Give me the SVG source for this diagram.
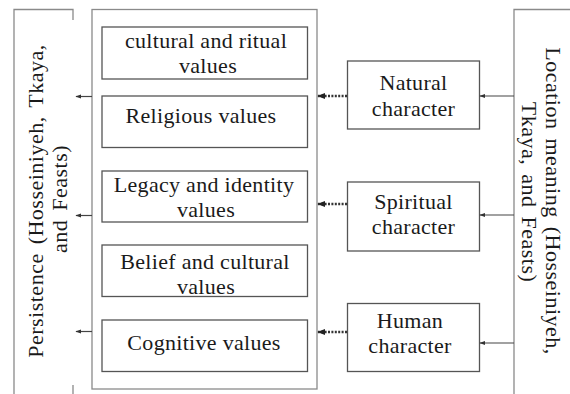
<svg xmlns="http://www.w3.org/2000/svg" width="570" height="394" viewBox="0 0 570 394">
<defs>
<style>
text{font-family:"Liberation Serif","Times New Roman",serif;font-size:22px;fill:#1a1a1a;text-anchor:middle;letter-spacing:0.3px}
text.rot{word-spacing:3px;letter-spacing:0.5px}
.frame{fill:none;stroke:#8a8a8a;stroke-width:1.3}
.box{fill:#fff;stroke:#555;stroke-width:1.3}
.link{stroke:#444;stroke-width:1.2;fill:none}
.dot{stroke:#333;stroke-width:2.4;stroke-dasharray:2 1.4;fill:none}
</style>
<marker id="ah" viewBox="0 0 10 10" refX="9" refY="5" markerWidth="6" markerHeight="6" orient="auto-start-reverse" markerUnits="userSpaceOnUse">
<path d="M0,1.5 L10,5 L0,8.5 Z" fill="#333"/>
</marker>
<marker id="ahb" viewBox="0 0 10 10" refX="9" refY="5" markerWidth="8" markerHeight="8" orient="auto-start-reverse" markerUnits="userSpaceOnUse">
<path d="M0,1 L10,5 L0,9 Z" fill="#222"/>
</marker>
</defs>
<rect width="570" height="394" fill="#fff"/>

<g id="persistence">
<path class="frame" d="M73,20 V9.5 H14 V394 M73,385 V394"/>
<text class="rot" transform="translate(43,201) rotate(-90)">Persistence (Hosseiniyeh, Tkaya,</text>
<text class="rot" transform="translate(67,199) rotate(-90)">and Feasts)</text>
</g>

<g id="values-frame">
<rect class="frame" x="92" y="9.5" width="225" height="379.5"/>
</g>

<g id="cultural-ritual">
<rect class="box" x="102" y="27" width="205.5" height="52"/>
<text x="206" y="48">cultural and ritual</text>
<text x="208" y="73">values</text>
</g>
<g id="religious">
<rect class="box" x="102" y="96" width="205.5" height="51.5"/>
<text x="201" y="123">Religious values</text>
</g>
<g id="legacy">
<rect class="box" x="102" y="171" width="205.5" height="51"/>
<text x="204" y="192">Legacy and identity</text>
<text x="206" y="217">values</text>
</g>
<g id="belief">
<rect class="box" x="102" y="245" width="205.5" height="51.5"/>
<text x="205" y="269">Belief and cultural</text>
<text x="206" y="294">values</text>
</g>
<g id="cognitive">
<rect class="box" x="102" y="320" width="205.5" height="51.5"/>
<text x="204" y="350">Cognitive values</text>
</g>

<g id="natural">
<rect class="box" x="347.5" y="61" width="132" height="68"/>
<text x="413.5" y="90">Natural</text>
<text x="413.5" y="116">character</text>
</g>
<g id="spiritual">
<rect class="box" x="347.5" y="182" width="132" height="69"/>
<text x="413.5" y="209">Spiritual</text>
<text x="413.5" y="234">character</text>
</g>
<g id="human">
<rect class="box" x="347.5" y="303.5" width="132" height="68"/>
<text x="410" y="328">Human</text>
<text x="410" y="353">character</text>
</g>

<g id="location">
<path class="frame" d="M514,394 V9.5 H570"/>
<text class="rot" transform="translate(546,201) rotate(90)">Location meaning (Hosseiniyeh,</text>
<text class="rot" transform="translate(522,192) rotate(90)">Tkaya, and Feasts)</text>
</g>

<g id="connectors">
<line class="link" x1="92" y1="96.5" x2="76" y2="96.5" marker-end="url(#ah)"/>
<line class="link" x1="92" y1="215.5" x2="76" y2="215.5" marker-end="url(#ah)"/>
<line class="link" x1="92" y1="331.5" x2="76" y2="331.5" marker-end="url(#ah)"/>
<line class="dot" x1="347" y1="96" x2="318" y2="96" marker-end="url(#ahb)"/>
<line class="dot" x1="347" y1="204" x2="318" y2="204" marker-end="url(#ahb)"/>
<line class="dot" x1="347" y1="332" x2="318" y2="332" marker-end="url(#ahb)"/>
<line class="link" x1="514" y1="96" x2="480" y2="96" marker-end="url(#ah)"/>
<line class="link" x1="514" y1="215" x2="480" y2="215" marker-end="url(#ah)"/>
<line class="link" x1="514" y1="343" x2="480" y2="343" marker-end="url(#ah)"/>
</g>
</svg>
